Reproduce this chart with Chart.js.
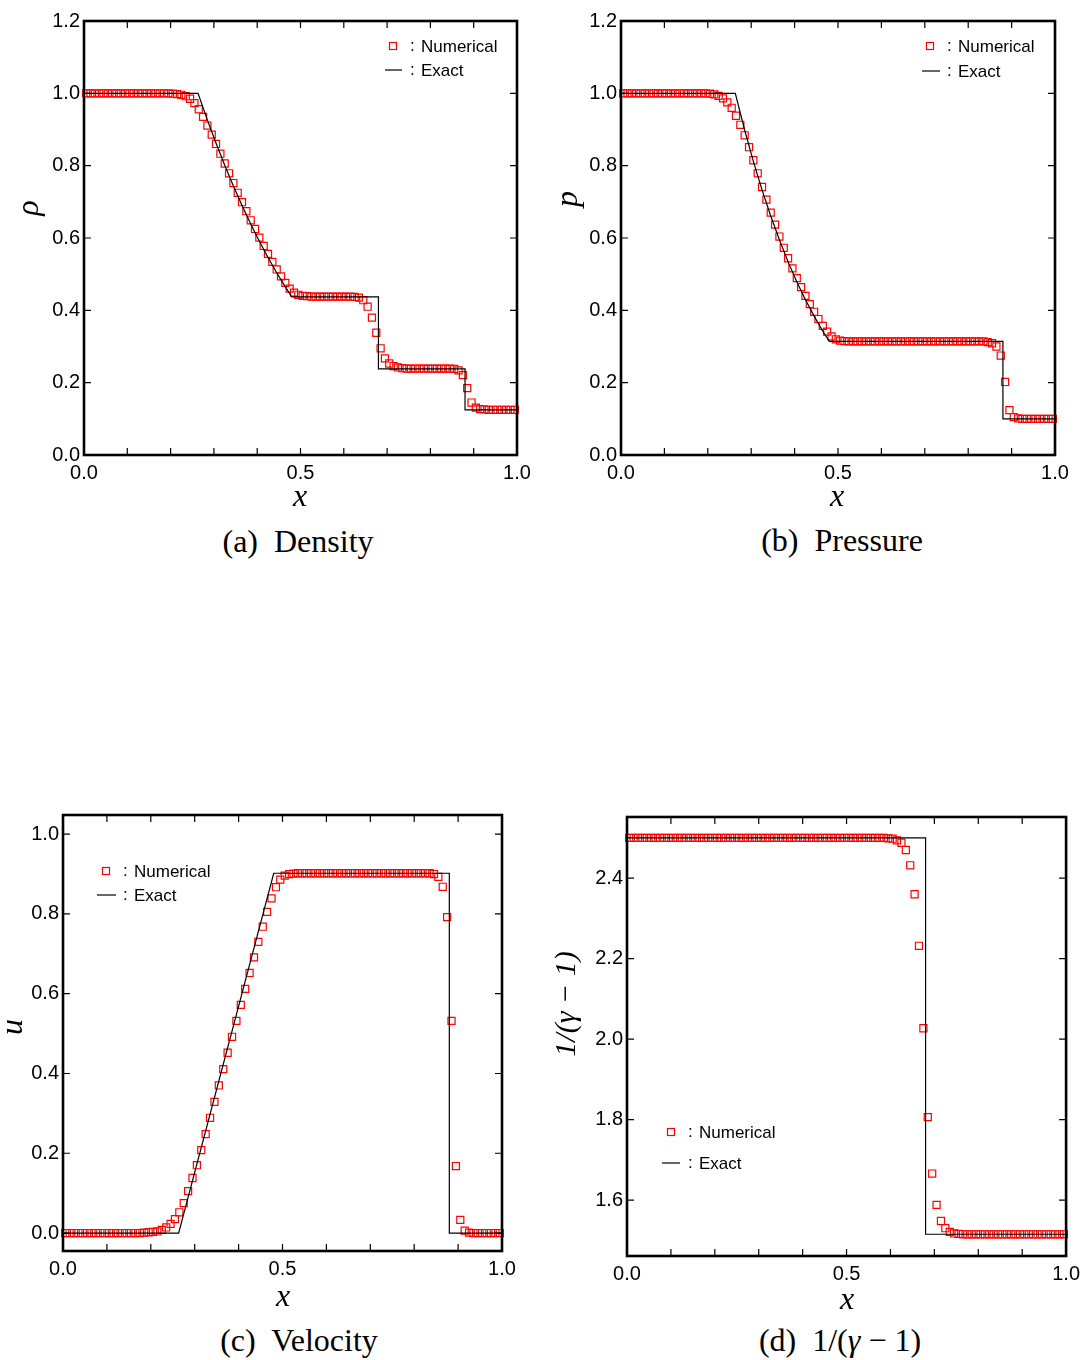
<!DOCTYPE html>
<html>
<head>
<meta charset="utf-8">
<script src="https://cdn.jsdelivr.net/npm/chart.js@4.4.0/dist/chart.umd.min.js"></script>
<style>
body { margin: 0; background: #fff; }
#page { position: relative; width: 1086px; height: 1360px; overflow: hidden; }
canvas { position: absolute; }
.caption { position: absolute; width: 400px; text-align: center; font-family: "Liberation Serif", serif; font-size: 32px; line-height: 1; color: #000; white-space: nowrap; }
</style>
</head>
<body>
<div id="page">
  <canvas id="rho" width="545" height="520" style="left:0px; top:0px"></canvas>
  <canvas id="pres" width="541" height="520" style="left:545px; top:0px"></canvas>
  <canvas id="vel" width="545" height="530" style="left:0px; top:790px"></canvas>
  <canvas id="gam" width="541" height="530" style="left:545px; top:790px"></canvas>
  <div class="caption" style="left:98px; top:525px">(a)&nbsp; Density</div>
  <div class="caption" style="left:642px; top:524px">(b)&nbsp; Pressure</div>
  <div class="caption" style="left:99px; top:1324px">(c)&nbsp; Velocity</div>
  <div class="caption" style="left:640px; top:1324px">(d)&nbsp; 1/(<i>γ</i> − 1)</div>
</div>
<script>
// cell centres of the numerical solution
var xCells = [
  0.005, 0.015, 0.025, 0.035, 0.045, 0.055, 0.065, 0.075, 0.085, 0.095,
  0.105, 0.115, 0.125, 0.135, 0.145, 0.155, 0.165, 0.175, 0.185, 0.195,
  0.205, 0.215, 0.225, 0.235, 0.245, 0.255, 0.265, 0.275, 0.285, 0.295,
  0.305, 0.315, 0.325, 0.335, 0.345, 0.355, 0.365, 0.375, 0.385, 0.395,
  0.405, 0.415, 0.425, 0.435, 0.445, 0.455, 0.465, 0.475, 0.485, 0.495,
  0.505, 0.515, 0.525, 0.535, 0.545, 0.555, 0.565, 0.575, 0.585, 0.595,
  0.605, 0.615, 0.625, 0.635, 0.645, 0.655, 0.665, 0.675, 0.685, 0.695,
  0.705, 0.715, 0.725, 0.735, 0.745, 0.755, 0.765, 0.775, 0.785, 0.795,
  0.805, 0.815, 0.825, 0.835, 0.845, 0.855, 0.865, 0.875, 0.885, 0.895,
  0.905, 0.915, 0.925, 0.935, 0.945, 0.955, 0.965, 0.975, 0.985, 0.995
];

// numerical density
var rhoNum = [
  1.0, 1.0, 1.0, 1.0, 1.0, 1.0, 1.0, 1.0, 1.0, 1.0,
  1.0, 1.0, 1.0, 1.0, 1.0, 1.0, 1.0, 1.0, 1.0, 1.0,
  0.999, 0.998, 0.996, 0.992, 0.985, 0.973, 0.956, 0.935, 0.911, 0.886,
  0.860, 0.833, 0.806, 0.779, 0.752, 0.725, 0.699, 0.674, 0.649, 0.625,
  0.601, 0.578, 0.556, 0.534, 0.513, 0.494, 0.476, 0.460, 0.449, 0.443,
  0.440, 0.439, 0.438, 0.438, 0.438, 0.438, 0.438, 0.438, 0.438, 0.438,
  0.438, 0.438, 0.437, 0.435, 0.428, 0.410, 0.380, 0.338, 0.295, 0.267,
  0.253, 0.246, 0.242, 0.240, 0.239, 0.239, 0.239, 0.239, 0.239, 0.239,
  0.239, 0.239, 0.239, 0.239, 0.239, 0.238, 0.234, 0.221, 0.185, 0.145,
  0.131, 0.127, 0.126, 0.125, 0.125, 0.125, 0.125, 0.125, 0.125, 0.125
];
// numerical pressure
var pNum = [
  1.0, 1.0, 1.0, 1.0, 1.0, 1.0, 1.0, 1.0, 1.0, 1.0,
  1.0, 1.0, 1.0, 1.0, 1.0, 1.0, 1.0, 1.0, 1.0, 1.0,
  0.999, 0.997, 0.993, 0.986, 0.975, 0.960, 0.938, 0.913, 0.884, 0.851,
  0.815, 0.779, 0.741, 0.706, 0.670, 0.637, 0.604, 0.573, 0.544, 0.516,
  0.489, 0.464, 0.440, 0.417, 0.396, 0.376, 0.357, 0.341, 0.328, 0.320,
  0.316, 0.315, 0.314, 0.314, 0.314, 0.314, 0.314, 0.314, 0.314, 0.314,
  0.314, 0.314, 0.314, 0.314, 0.314, 0.314, 0.314, 0.314, 0.314, 0.314,
  0.314, 0.314, 0.314, 0.314, 0.314, 0.314, 0.314, 0.314, 0.314, 0.314,
  0.314, 0.314, 0.314, 0.314, 0.312, 0.309, 0.300, 0.275, 0.202, 0.124,
  0.105, 0.101, 0.100, 0.100, 0.100, 0.100, 0.100, 0.100, 0.100, 0.100
];
// numerical velocity
var uNum = [
  0.0, 0.0, 0.0, 0.0, 0.0, 0.0, 0.0, 0.0, 0.0, 0.0,
  0.0, 0.0, 0.0, 0.0, 0.0, 0.0, 0.0, 0.0, 0.001, 0.002,
  0.003, 0.004, 0.008, 0.014, 0.023, 0.035, 0.052, 0.075, 0.105, 0.138,
  0.170, 0.208, 0.248, 0.289, 0.329, 0.370, 0.411, 0.452, 0.492, 0.532,
  0.572, 0.612, 0.652, 0.691, 0.730, 0.768, 0.805, 0.839, 0.867, 0.886,
  0.896, 0.900, 0.901, 0.902, 0.902, 0.902, 0.902, 0.902, 0.902, 0.902,
  0.902, 0.902, 0.902, 0.902, 0.902, 0.902, 0.902, 0.902, 0.902, 0.902,
  0.902, 0.902, 0.902, 0.902, 0.902, 0.902, 0.902, 0.902, 0.902, 0.902,
  0.902, 0.902, 0.902, 0.902, 0.900, 0.893, 0.868, 0.792, 0.532, 0.168,
  0.033, 0.006, 0.001, 0.0, 0.0, 0.0, 0.0, 0.0, 0.0, 0.0
];
// numerical 1/(gamma-1)
var gNum = [
  2.5, 2.5, 2.5, 2.5, 2.5, 2.5, 2.5, 2.5, 2.5, 2.5,
  2.5, 2.5, 2.5, 2.5, 2.5, 2.5, 2.5, 2.5, 2.5, 2.5,
  2.5, 2.5, 2.5, 2.5, 2.5, 2.5, 2.5, 2.5, 2.5, 2.5,
  2.5, 2.5, 2.5, 2.5, 2.5, 2.5, 2.5, 2.5, 2.5, 2.5,
  2.5, 2.5, 2.5, 2.5, 2.5, 2.5, 2.5, 2.5, 2.5, 2.5,
  2.5, 2.5, 2.5, 2.5, 2.5, 2.5, 2.5, 2.5, 2.5, 2.499,
  2.498, 2.494, 2.488, 2.470, 2.432, 2.360, 2.232, 2.027, 1.806, 1.666,
  1.588, 1.548, 1.530, 1.521, 1.517, 1.516, 1.515, 1.515, 1.515, 1.515,
  1.515, 1.515, 1.515, 1.515, 1.515, 1.515, 1.515, 1.515, 1.515, 1.515,
  1.515, 1.515, 1.515, 1.515, 1.515, 1.515, 1.515, 1.515, 1.515, 1.515
];

// exact solution, as broken lines
var rhoExX = [0.0, 0.2634, 0.285, 0.305, 0.325, 0.345, 0.365, 0.385, 0.405, 0.425, 0.445, 0.465, 0.480, 0.680, 0.680, 0.880, 0.880, 1.0];
var rhoExY = [1.0, 1.0, 0.926, 0.862, 0.801, 0.744, 0.690, 0.639, 0.591, 0.546, 0.504, 0.465, 0.437, 0.437, 0.238, 0.238, 0.125, 0.125];
var pExX = [0.0, 0.2634, 0.285, 0.305, 0.325, 0.345, 0.365, 0.385, 0.405, 0.425, 0.445, 0.465, 0.480, 0.880, 0.880, 1.0];
var pExY = [1.0, 1.0, 0.898, 0.812, 0.733, 0.661, 0.595, 0.534, 0.479, 0.429, 0.384, 0.342, 0.314, 0.314, 0.100, 0.100];
var uExX = [0.0, 0.2634, 0.480, 0.880, 0.880, 1.0];
var uExY = [0.0, 0.0, 0.902, 0.902, 0.0, 0.0];
var gExX = [0.0, 0.680, 0.680, 1.0];
var gExY = [2.5, 2.5, 1.515, 1.515];

/* frame, inward ticks, legend and axis titles */
var framePlugin = {
  id: 'frame',
  afterDraw: function (chart, args, o) {
    var ctx = chart.ctx;
    var a = chart.chartArea;
    var sx = chart.scales.x, sy = chart.scales.y;
    ctx.save();
    ctx.strokeStyle = '#000';
    ctx.lineWidth = 1.2;
    ctx.beginPath();
    sx.ticks.forEach(function (t) {
      var px = sx.getPixelForValue(t.value);
      ctx.moveTo(px, a.bottom); ctx.lineTo(px, a.bottom - 7);
      ctx.moveTo(px, a.top); ctx.lineTo(px, a.top + 7);
    });
    sy.ticks.forEach(function (t) {
      var py = sy.getPixelForValue(t.value);
      ctx.moveTo(a.left, py); ctx.lineTo(a.left + 7, py);
      ctx.moveTo(a.right, py); ctx.lineTo(a.right - 7, py);
    });
    ctx.stroke();
    ctx.lineWidth = 2.6;
    ctx.strokeRect(a.left, a.top, a.right - a.left, a.bottom - a.top);

    // legend
    var L = o.legend;
    ctx.lineWidth = 1.2;
    ctx.strokeStyle = '#f00';
    ctx.strokeRect(L.sqX - 3.5, L.sqY - 3.5, 7, 7);
    ctx.strokeStyle = '#000';
    ctx.beginPath();
    ctx.moveTo(L.lnX1, L.lnY); ctx.lineTo(L.lnX2, L.lnY);
    ctx.stroke();
    ctx.fillStyle = '#000';
    ctx.font = '17px "Liberation Sans"';
    ctx.textAlign = 'left';
    ctx.textBaseline = 'middle';
    ctx.fillText(':', L.sqX + 17, L.sqY);
    ctx.fillText('Numerical', L.sqX + 28, L.sqY + 1);
    ctx.fillText(':', L.sqX + 17, L.lnY);
    ctx.fillText('Exact', L.sqX + 28, L.lnY + 1);

    // axis titles
    ctx.font = 'italic 32px "Liberation Serif"';
    ctx.textAlign = 'center';
    ctx.fillText(o.xTitle, o.xTitleAt[0], o.xTitleAt[1]);
    ctx.translate(o.yTitleAt[0], o.yTitleAt[1]);
    ctx.rotate(-Math.PI / 2);
    ctx.font = 'italic ' + o.yTitleSize + 'px "Liberation Serif"';
    ctx.fillText(o.yTitle, 0, 0);
    ctx.restore();
  }
};

function xLabel(v) {
  if (Math.abs(v) < 1e-6 || Math.abs(v - 0.5) < 1e-6 || Math.abs(v - 1) < 1e-6) return v.toFixed(1);
  return '';
}

function makePanel(id, numY, exX, exY, opt) {
  var numPts = [];
  for (var i = 0; i < xCells.length; i++) numPts.push({x: xCells[i], y: numY[i]});
  var exPts = [];
  for (var j = 0; j < exX.length; j++) exPts.push({x: exX[j], y: exY[j]});
  var tickFont = {family: 'Liberation Sans', size: 20};
  return new Chart(document.getElementById(id), {
    type: 'scatter',
    data: {
      datasets: [
        {label: 'Exact', data: exPts, showLine: true, borderColor: '#000', borderWidth: 1.2,
         pointRadius: 0, fill: false, tension: 0},
        {label: 'Numerical', data: numPts, pointStyle: 'rect', pointRadius: 5, borderColor: '#ff0000',
         borderWidth: 1.2, backgroundColor: 'rgba(0,0,0,0)', clip: false}
      ]
    },
    options: {
      responsive: false,
      animation: false,
      layout: {padding: opt.pad},
      plugins: {legend: {display: false}, tooltip: {enabled: false}, frame: opt},
      scales: {
        x: {
          type: 'linear', min: 0, max: 1,
          afterFit: function (s) { s.height = opt.xh; },
          grid: {display: false, drawTicks: false}, border: {display: false},
          ticks: {stepSize: 0.1, padding: 6, color: '#000', font: tickFont, maxRotation: 0, autoSkip: false,
                  callback: xLabel}
        },
        y: {
          min: opt.yMin, max: opt.yMax,
          afterFit: function (s) { s.width = opt.yw; },
          grid: {display: false, drawTicks: false}, border: {display: false},
          ticks: {stepSize: 0.2, includeBounds: false, padding: 4, color: '#000', font: tickFont,
                  callback: function (v) { return v.toFixed(1); }}
        }
      }
    },
    plugins: [framePlugin]
  });
}

makePanel('rho', rhoNum, rhoExX, rhoExY, {
  pad: {left: 0, right: 28, top: 21, bottom: 0}, yw: 84, xh: 65, yMin: 0, yMax: 1.2,
  legend: {sqX: 393, sqY: 46, lnX1: 385, lnX2: 402, lnY: 70},
  xTitle: 'x', xTitleAt: [300, 498], yTitle: 'ρ', yTitleAt: [30, 208], yTitleSize: 32
});
makePanel('pres', pNum, pExX, pExY, {
  pad: {left: 0, right: 31, top: 21, bottom: 0}, yw: 76, xh: 65, yMin: 0, yMax: 1.2,
  legend: {sqX: 385, sqY: 46, lnX1: 377, lnX2: 395, lnY: 71},
  xTitle: 'x', xTitleAt: [292, 498], yTitle: 'p', yTitleAt: [24, 199], yTitleSize: 32
});
makePanel('vel', uNum, uExX, uExY, {
  pad: {left: 0, right: 43, top: 25, bottom: 0}, yw: 63, xh: 69, yMin: -0.045, yMax: 1.048,
  legend: {sqX: 106, sqY: 81, lnX1: 97, lnX2: 116, lnY: 105},
  xTitle: 'x', xTitleAt: [283, 508], yTitle: 'u', yTitleAt: [14, 237], yTitleSize: 32
});
makePanel('gam', gNum, gExX, gExY, {
  pad: {left: 0, right: 19, top: 27, bottom: 0}, yw: 82, xh: 64, yMin: 1.461, yMax: 2.552,
  legend: {sqX: 126, sqY: 342, lnX1: 117, lnX2: 135, lnY: 373},
  xTitle: 'x', xTitleAt: [302, 511], yTitle: '1/(γ − 1)', yTitleAt: [22, 214], yTitleSize: 30
});
</script>
</body>
</html>
